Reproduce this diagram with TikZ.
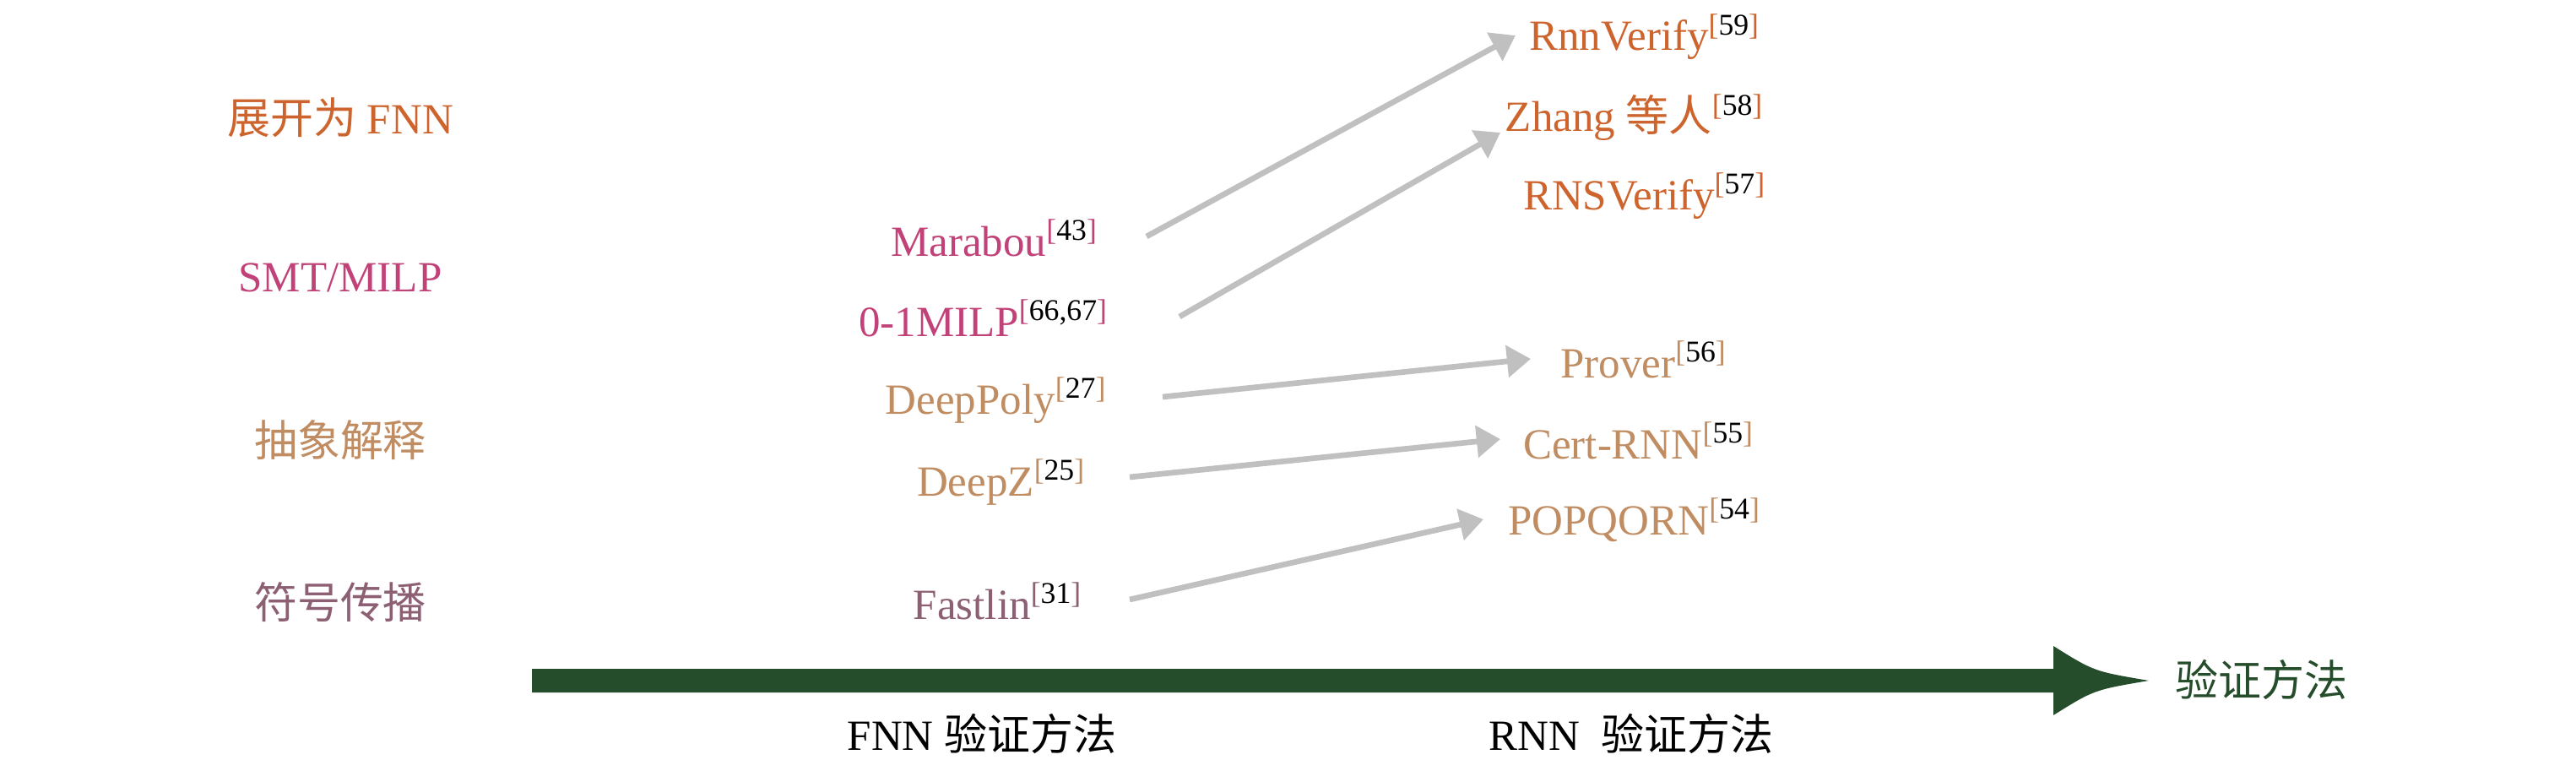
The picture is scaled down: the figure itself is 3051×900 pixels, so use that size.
\documentclass[tikz,border=0pt]{standalone}
\usepackage{fontspec}
\setmainfont{Liberation Serif}
\newfontfamily\cjk{Noto Sans CJK SC}
\usetikzlibrary{arrows.meta,calc}
\definecolor{cOrange}{RGB}{205,100,45}
\definecolor{cPink}{RGB}{192,66,120}
\definecolor{cTan}{RGB}{192,140,98}
\definecolor{cMauve}{RGB}{140,95,115}
\definecolor{cGray}{RGB}{192,192,192}
\definecolor{cGreen}{RGB}{38,77,43}
\newcommand{\rf}[1]{\textsuperscript{[{\color{black}#1}]}}
\begin{document}
\begin{tikzpicture}[x=0.01cm,y=-0.01cm,
  lbl/.style={inner sep=0pt, anchor=base, font=\fontsize{14.5pt}{17pt}\selectfont},
  mid/.style={inner sep=0pt, anchor=base, font=\fontsize{14.5pt}{17pt}\selectfont},
  garrow/.style={draw=cGray, line width=1.9pt, -{Triangle[length=8pt,width=10.5pt]}},
]
\useasboundingbox (0,0) rectangle (3051,900);

% left category labels
\node[lbl, text=cOrange] (catfnn) at (403,158) {{\cjk 展开为} FNN};
\node[lbl, text=cPink]   (catsmt) at (403,345) {SMT/MILP};
\node[lbl, text=cTan]    (catabs) at (403,540) {\cjk 抽象解释};
\node[lbl, text=cMauve]  (catsym) at (403,732) {\cjk 符号传播};

% FNN methods
\node[mid, text=cPink]  (marabou)  at (1178,303) {Marabou\rf{43}};
\node[mid, text=cPink]  (milp)     at (1165,398) {0-1MILP\rf{66,67}};
\node[mid, text=cTan]   (deeppoly) at (1180,490) {DeepPoly\rf{27}};
\node[mid, text=cTan]   (deepz)    at (1186,587) {DeepZ\rf{25}};
\node[mid, text=cMauve] (fastlin)  at (1182,733) {Fastlin\rf{31}};

% RNN methods
\node[mid, text=cOrange] (rnnverify) at (1948,60)  {RnnVerify\rf{59}};
\node[mid, text=cOrange] (zhang)     at (1936,155) {Zhang {\cjk 等人}\rf{58}};
\node[mid, text=cOrange] (rnsverify) at (1948,248) {RNSVerify\rf{57}};
\node[mid, text=cTan]    (prover)    at (1947,447) {Prover\rf{56}};
\node[mid, text=cTan]    (certrnn)   at (1941,543) {Cert-RNN\rf{55}};
\node[mid, text=cTan]    (popqorn)   at (1936,633) {POPQORN\rf{54}};

% connectors
\draw[garrow] ($(marabou.base)+(180,-23)$) -- ($(rnnverify.base)+(-153,-18)$);
\draw[garrow] ($(milp.base)+(232,-23)$) -- ($(zhang.base)+(-159,2)$);
\draw[garrow] ($(deeppoly.base)+(197,-20)$) -- ($(prover.base)+(-134,-22)$);
\draw[garrow] ($(deepz.base)+(152,-22)$) -- ($(certrnn.base)+(-164,-23)$);
\draw[garrow] ($(fastlin.base)+(156,-23)$) -- ($(popqorn.base)+(-179,-18)$);

% timeline arrow
\fill[cGreen] (630,792) -- (2432,792) -- (2432,765)
  .. controls (2480,795) .. (2545,806)
  .. controls (2480,817) .. (2432,847) -- (2432,820) -- (630,820) -- cycle;
\node[lbl, text=cGreen] (axis) at (2678,824) {\cjk 验证方法};
\node[lbl] (fnnlbl) at (1163,888) {FNN {\cjk 验证方法}};
\node[lbl] (rnnlbl) at (1932,888) {RNN\ \ {\cjk 验证方法}};
\end{tikzpicture}
\end{document}
